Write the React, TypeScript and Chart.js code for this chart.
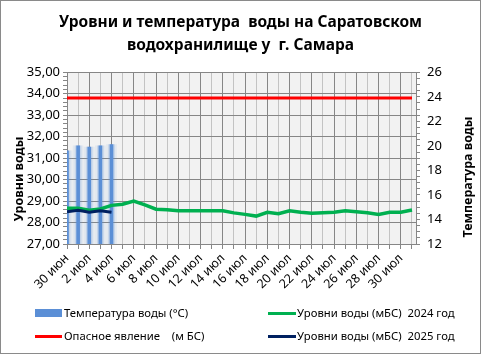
import React, { useEffect, useRef } from "react";
import { Chart, registerables } from "chart.js";

Chart.register(...registerables);

const dates = [
  "30 июн", "1 июл", "2 июл", "3 июл", "4 июл", "5 июл", "6 июл", "7 июл",
  "8 июл", "9 июл", "10 июл", "11 июл", "12 июл", "13 июл", "14 июл", "15 июл",
  "16 июл", "17 июл", "18 июл", "19 июл", "20 июл", "21 июл", "22 июл", "23 июл",
  "24 июл", "25 июл", "26 июл", "27 июл", "28 июл", "29 июл", "30 июл", "31 июл",
];

const waterTemp = [19.6, 20.0, 19.9, 20.0, 20.1];

const level2024 = [
  28.66, 28.66, 28.57, 28.63, 28.8, 28.85, 29.0, 28.82,
  28.62, 28.6, 28.55, 28.55, 28.55, 28.55, 28.55, 28.45,
  28.38, 28.3, 28.48, 28.41, 28.55, 28.48, 28.43, 28.46,
  28.48, 28.55, 28.5, 28.46, 28.38, 28.48, 28.48, 28.58,
];

const level2025 = [28.5, 28.57, 28.48, 28.55, 28.48];

const dangerLevel = [
  33.8, 33.8, 33.8, 33.8, 33.8, 33.8, 33.8, 33.8,
  33.8, 33.8, 33.8, 33.8, 33.8, 33.8, 33.8, 33.8,
  33.8, 33.8, 33.8, 33.8, 33.8, 33.8, 33.8, 33.8,
  33.8, 33.8, 33.8, 33.8, 33.8, 33.8, 33.8, 33.8,
];

const levelRange = { min: 27, max: 35, major: 1, minor: 0.2 };
const tempRange = { min: 12, max: 26, major: 2, minor: 0.5 };

const titleLines = ["Уровни и температура  воды на Саратовском", "водохранилище у  г. Самара"];
const leftTitle = "Уровни воды";
const rightTitle = "Температура воды";
const legendTemp = "Температура воды (°С)";
const legendDanger = "Опасное явление    (м БС)";
const legend2024 = "Уровни воды (мБС)  2024 год";
const legend2025 = "Уровни воды (мБС)  2025 год";

const FONT = "'Noto Sans', sans-serif";
const GRID_DARK = "#868686";
const GRID_LIGHT = "#c3c3c3";
const BLUE = "#5B8FD6";
const GREEN = "#00B050";
const RED = "#FF0000";
const NAVY = "#002060";

function stepTicks(min: number, max: number, step: number) {
  const n = Math.round((max - min) / step);
  const out: { value: number }[] = [];
  for (let i = 0; i <= n; i++) out.push({ value: Math.round((min + i * step) * 1000) / 1000 });
  return out;
}
const isMultiple = (v: number, m: number) => Math.abs(v / m - Math.round(v / m)) < 1e-6;
const toXY = (arr: number[]) => arr.map((v, i) => ({ x: i, y: v }));

const decorPlugin = {
  id: "decor",
  beforeDraw(chart: any) {
    const { ctx, chartArea: a } = chart;
    ctx.save();
    ctx.fillStyle = "#ffffff";
    ctx.fillRect(0, 0, chart.width, chart.height);
    ctx.fillStyle = "#F2F2F2";
    ctx.fillRect(a.left, a.top, a.right - a.left, a.bottom - a.top);
    ctx.restore();
  },
  afterDraw(chart: any) {
    const { ctx } = chart;
    const drawVertical = (text: string, x: number, y: number) => {
      ctx.save();
      ctx.fillStyle = "#000";
      ctx.font = `bold 12.5px ${FONT}`;
      ctx.textAlign = "center";
      ctx.textBaseline = "middle";
      ctx.translate(x, y);
      ctx.rotate(-Math.PI / 2);
      ctx.fillText(text, 0, 0);
      ctx.restore();
    };
    drawVertical(leftTitle, 19, 179);
    drawVertical(rightTitle, 468, 177);
  },
};

export default function App() {
  const ref = useRef<HTMLCanvasElement | null>(null);

  useEffect(() => {
    document.body.style.margin = "0";
    const canvas = ref.current;
    if (!canvas) return;
    const chart = new Chart(canvas, {
      type: "bar",
      data: {
        datasets: [
          {
            type: "line",
            label: "Уровни воды (мБС) 2025 год",
            data: toXY(level2025),
            borderColor: NAVY,
            borderWidth: 3,
            pointRadius: 0,
            tension: 0,
            yAxisID: "y",
            order: 0,
          },
          {
            type: "line",
            label: "Уровни воды (мБС) 2024 год",
            data: toXY(level2024),
            borderColor: GREEN,
            borderWidth: 3.5,
            pointRadius: 0,
            tension: 0,
            yAxisID: "y",
            order: 1,
          },
          {
            type: "line",
            label: "Опасное явление (м БС)",
            data: toXY(dangerLevel),
            borderColor: RED,
            borderWidth: 3,
            pointRadius: 0,
            tension: 0,
            yAxisID: "y",
            order: 2,
          },
          {
            type: "bar",
            label: "Температура воды (°С)",
            data: toXY(waterTemp),
            backgroundColor: BLUE,
            barThickness: 3,
            grouped: false,
            clip: 0,
            yAxisID: "y1",
            order: 3,
          } as any,
          {
            type: "bar",
            label: "glow1",
            data: toXY(waterTemp),
            backgroundColor: "rgba(91,143,214,0.22)",
            barThickness: 6,
            grouped: false,
            clip: 0,
            yAxisID: "y1",
            order: 4,
          } as any,
          {
            type: "bar",
            label: "glow2",
            data: toXY(waterTemp),
            backgroundColor: "rgba(91,143,214,0.10)",
            barThickness: 10,
            grouped: false,
            clip: 0,
            yAxisID: "y1",
            order: 5,
          } as any,
        ],
      },
      options: {
        responsive: false,
        animation: false,
        devicePixelRatio: 1,
        layout: { padding: 0 },
        plugins: {
          legend: { display: false },
          tooltip: { enabled: false },
          title: {
            display: true,
            text: titleLines,
            color: "#000",
            font: { family: FONT, size: 15.5, weight: "bold", lineHeight: 1.5 },
            padding: { top: 11, bottom: 14.8 },
          },
        },
        scales: {
          x: {
            type: "linear",
            offset: false,
            min: 0,
            max: dates.length - 1 + 0.36,
            afterBuildTicks: (scale: any) => {
              scale.ticks = dates.map((_, i) => ({ value: i }));
            },
            afterFit: (scale: any) => {
              scale.height = 110;
            },
            ticks: {
              autoSkip: false,
              maxRotation: 45,
              minRotation: 45,
              color: "#000",
              padding: 2,
              font: { family: FONT, size: 12.5 },
              callback: (value: any) => {
                const i = Math.round(Number(value));
                return i % 2 === 0 ? dates[i] : "";
              },
            },
            grid: {
              offset: false,
              color: (ctx: any) => (ctx.index % 2 === 0 ? GRID_DARK : GRID_LIGHT),
              tickColor: GRID_DARK,
              tickLength: 5,
              lineWidth: 1,
            },
            border: { color: GRID_DARK, width: 1 },
          },
          y: {
            type: "linear",
            position: "left",
            min: levelRange.min,
            max: levelRange.max,
            afterBuildTicks: (scale: any) => {
              scale.ticks = stepTicks(levelRange.min, levelRange.max, levelRange.minor);
            },
            afterFit: (scale: any) => {
              scale.width = 67;
            },
            ticks: {
              autoSkip: false,
              color: "#000",
              padding: 3,
              font: { family: FONT, size: 13 },
              callback: (value: any) =>
                isMultiple(Number(value), levelRange.major) ? Number(value).toFixed(2).replace(".", ",") : "",
            },
            grid: {
              color: (ctx: any) =>
                ctx.tick && isMultiple(ctx.tick.value, levelRange.major) ? GRID_DARK : "rgba(0,0,0,0)",
              tickColor: GRID_DARK,
              tickLength: 4,
            },
            border: { color: GRID_DARK, width: 1 },
          },
          y1: {
            type: "linear",
            position: "right",
            min: tempRange.min,
            max: tempRange.max,
            afterBuildTicks: (scale: any) => {
              scale.ticks = stepTicks(tempRange.min, tempRange.max, tempRange.minor);
            },
            afterFit: (scale: any) => {
              scale.width = 65;
            },
            ticks: {
              autoSkip: false,
              color: "#000",
              padding: 7,
              font: { family: FONT, size: 13 },
              callback: (value: any) =>
                isMultiple(Number(value), tempRange.major) ? String(Math.round(Number(value))) : "",
            },
            grid: {
              drawOnChartArea: false,
              tickColor: GRID_DARK,
              tickLength: 4,
            },
            border: { color: GRID_DARK, width: 1 },
          },
        },
      },
      plugins: [decorPlugin],
    } as any);
    return () => chart.destroy();
  }, []);

  const textStyle: React.CSSProperties = {
    position: "absolute",
    fontFamily: FONT,
    fontSize: 11.3,
    color: "#000",
    whiteSpace: "pre",
    lineHeight: "14px",
  };

  return (
    <div style={{ position: "relative", width: 481, height: 354, background: "#fff" }}>
      <canvas ref={ref} width={481} height={354} style={{ position: "absolute", left: 0, top: 0 }} />
      <div style={{ position: "absolute", left: 35, top: 309, width: 27, height: 8, background: BLUE }} />
      <div style={{ ...textStyle, left: 64, top: 306 }}>{legendTemp}</div>
      <div style={{ position: "absolute", left: 268, top: 312, width: 28, height: 3, background: GREEN }} />
      <div style={{ ...textStyle, left: 297, top: 306 }}>{legend2024}</div>
      <div style={{ position: "absolute", left: 35, top: 335, width: 27, height: 3, background: RED }} />
      <div style={{ ...textStyle, left: 64, top: 329 }}>{legendDanger}</div>
      <div style={{ position: "absolute", left: 268, top: 335, width: 28, height: 3, background: NAVY }} />
      <div style={{ ...textStyle, left: 297, top: 329 }}>{legend2025}</div>
      <div
        style={{
          position: "absolute",
          left: 0,
          top: 0,
          width: 481,
          height: 354,
          boxSizing: "border-box",
          border: "1px solid #8a8a8a",
          pointerEvents: "none",
        }}
      />
    </div>
  );
}
